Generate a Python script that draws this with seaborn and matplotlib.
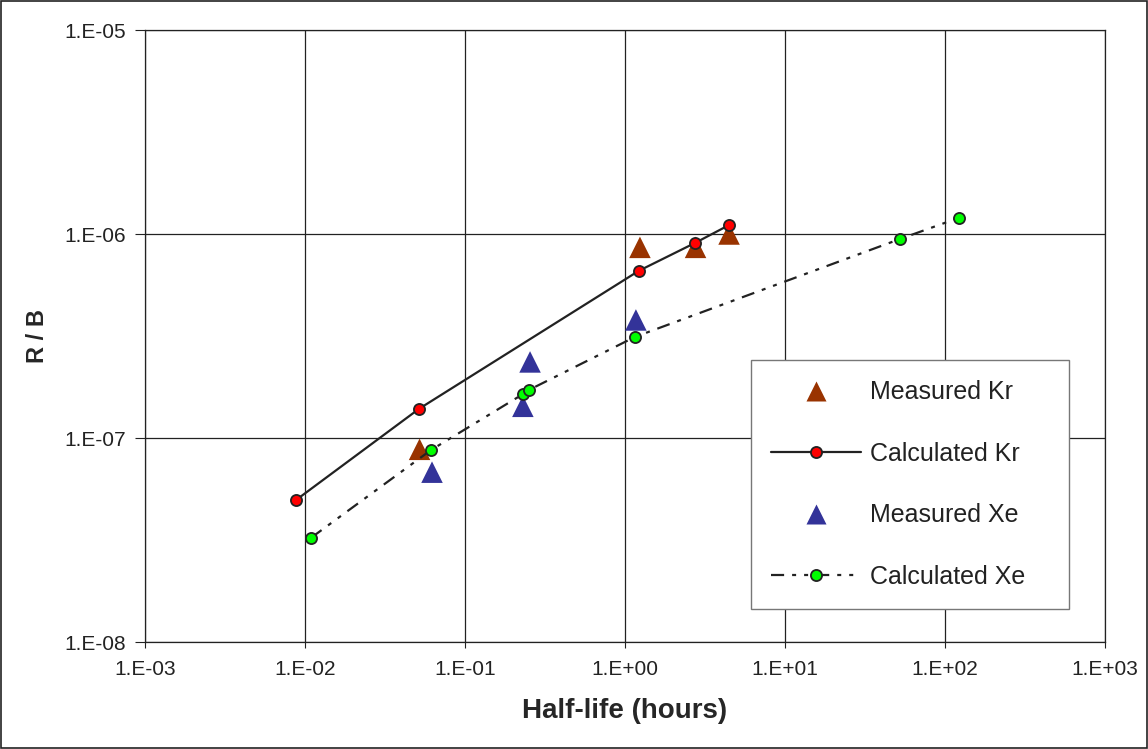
import matplotlib
matplotlib.use("Agg")
import matplotlib.pyplot as plt
import seaborn as sns
import pandas as pd
from matplotlib.patches import Rectangle
from matplotlib.lines import Line2D

# Data (half-life in hours, R/B)
meas_kr_x = [0.052, 1.24, 2.76, 4.47]
meas_kr_y = [8.8e-8, 8.6e-7, 8.6e-7, 1.0e-6]
calc_kr_x = [0.0088, 0.0516, 1.22, 2.74, 4.47]
calc_kr_y = [4.97e-8, 1.39e-7, 6.6e-7, 9.04e-7, 1.106e-6]
meas_xe_x = [0.0622, 0.230, 0.255, 1.17]
meas_xe_y = [6.8e-8, 1.43e-7, 2.36e-7, 3.79e-7]
calc_xe_x = [0.0109, 0.0613, 0.230, 0.251, 1.155, 52.3, 122.0]
calc_xe_y = [3.24e-8, 8.73e-8, 1.64e-7, 1.72e-7, 3.13e-7, 9.45e-7, 1.2e-6]
x_ticks = [1e-3, 1e-2, 1e-1, 1e0, 1e1, 1e2, 1e3]
x_ticklabels = ["1.E-03", "1.E-02", "1.E-01", "1.E+00", "1.E+01", "1.E+02", "1.E+03"]
y_ticks = [1e-8, 1e-7, 1e-6, 1e-5]
y_ticklabels = ["1.E-08", "1.E-07", "1.E-06", "1.E-05"]

sns.set_style("white")
plt.rcParams['font.family'] = ['Liberation Sans', 'DejaVu Sans']

fig = plt.figure(figsize=(11.48, 7.49), dpi=100)
ax = fig.add_axes([145/1148, 107/749, 960/1148, 612/749])

ax.set_xscale("log")
ax.set_yscale("log")

df_ck = pd.DataFrame({"x": calc_kr_x, "y": calc_kr_y})
df_cx = pd.DataFrame({"x": calc_xe_x, "y": calc_xe_y})
df_mk = pd.DataFrame({"x": meas_kr_x, "y": meas_kr_y})
df_mx = pd.DataFrame({"x": meas_xe_x, "y": meas_xe_y})

xe_dash = (0, (5.9, 3.6, 1.8, 3.6, 1.8, 3.6))

sns.lineplot(data=df_cx, x="x", y="y", ax=ax, color="#222222", linewidth=1.6,
             marker="o", markersize=8, markerfacecolor="#00FF00",
             markeredgecolor="#222222", markeredgewidth=1.3, zorder=3)
sns.lineplot(data=df_ck, x="x", y="y", ax=ax, color="#222222", linewidth=1.6,
             marker="o", markersize=8, markerfacecolor="#FF0000",
             markeredgecolor="#222222", markeredgewidth=1.3, zorder=3)
ax.lines[0].set_linestyle(xe_dash)

sns.scatterplot(data=df_mk, x="x", y="y", ax=ax, marker="^", s=240,
                color="#993300", edgecolor="none", zorder=2)
sns.scatterplot(data=df_mx, x="x", y="y", ax=ax, marker="^", s=240,
                color="#333399", edgecolor="none", zorder=2)

ax.set_xlim(1e-3, 1e3)
ax.set_ylim(1e-8, 1e-5)
ax.set_xticks(x_ticks)
ax.set_xticklabels(x_ticklabels)
ax.set_yticks(y_ticks)
ax.set_yticklabels(y_ticklabels)
ax.minorticks_off()
ax.tick_params(axis="both", which="major", labelsize=15, colors="#222222",
               length=7, width=0.8, direction="out", pad=7)
ax.tick_params(axis="x", length=4, pad=9)
ax.tick_params(left=True, bottom=True)

ax.grid(True, which="major", color="#222222", linewidth=0.9)
ax.set_axisbelow(True)
for s in ax.spines.values():
    s.set_color("#222222")
    s.set_linewidth(0.9)

ax.set_xlabel("Half-life (hours)", fontsize=20, fontweight="bold", labelpad=14)
ax.set_ylabel("R / B", fontsize=17, fontweight="bold", labelpad=11)

h_mk = Line2D([], [], linestyle="none", marker="^", markersize=14,
              color="#993300", markeredgecolor="none")
h_mx = Line2D([], [], linestyle="none", marker="^", markersize=14,
              color="#333399", markeredgecolor="none")
h_ck = Line2D([], [], color="#222222", linewidth=1.6, marker="o", markersize=8,
              markerfacecolor="#FF0000", markeredgecolor="#222222", markeredgewidth=1.3)
h_cx = Line2D([], [], color="#222222", linewidth=1.6, marker="o", markersize=8,
              markerfacecolor="#00FF00", markeredgecolor="#222222", markeredgewidth=1.3,
              linestyle=xe_dash)
leg = ax.legend([h_mk, h_ck, h_mx, h_cx],
                ["Measured Kr", "Calculated Kr", "Measured Xe", "Calculated Xe"],
                loc="lower left", bbox_to_anchor=(0.631, 0.054, 0.331, 0.405),
                mode="expand", fontsize=18, labelspacing=1.5, handlelength=3.6,
                handletextpad=0.35, borderpad=0.8, borderaxespad=0,
                frameon=True, fancybox=False,
                edgecolor="#777777", framealpha=1.0)
leg.get_frame().set_linewidth(1.0)
for t in leg.get_texts():
    t.set_color("#222222")

fig.patches.append(Rectangle((0.001, 0.001), 0.998, 0.998, transform=fig.transFigure,
                             fill=False, edgecolor="#222222", linewidth=1.2))

fig.savefig("out.png", dpi=100)
